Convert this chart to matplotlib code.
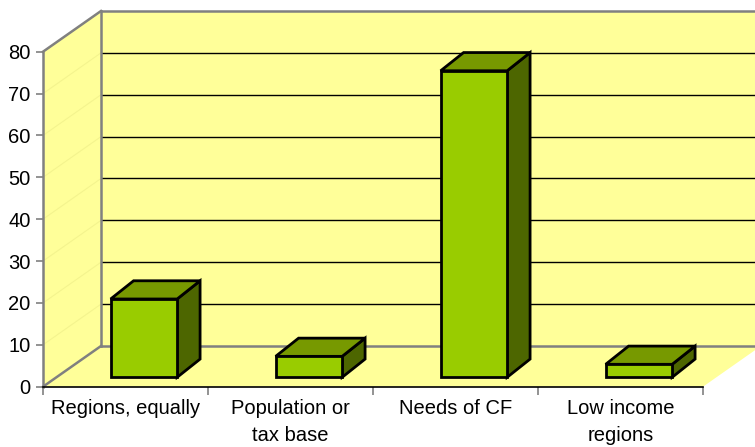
import matplotlib
matplotlib.use("Agg")
import matplotlib.pyplot as plt
from matplotlib.patches import Polygon

plt.rcParams['font.family'] = ['Liberation Sans', 'DejaVu Sans']

categories = ["Regions, equally", "Population or\ntax base", "Needs of CF", "Low income\nregions"]
values = [18.7, 5.0, 73.2, 3.1]
yticks = [0, 10, 20, 30, 40, 50, 60, 70, 80]

YMAX = 80
# oblique depth of the plot box, in data units (categories, value)
DX, DY = 0.3515, 9.72
# bar placement inside the depth of the box
BAR_L, BAR_R = 0.41, 0.813
BAR_BASE = 2.245
BAR_DX, BAR_DY = 0.139, 4.35

WALL = '#FFFF99'
EDGE = '#808080'
FRONT, TOP, SIDE = '#99CC00', '#779900', '#4D6600'

fig = plt.figure(figsize=(7.55, 4.47), dpi=100)
ax = fig.add_axes([43 / 755, 60.3 / 447, 660 / 755, 335 / 447])
ax.set_xlim(0, len(categories))
ax.set_ylim(0, YMAX)
ax.patch.set_visible(False)

n = len(categories)


def poly(pts, fc, ec='none', lw=0, z=1):
    p = Polygon(pts, closed=True, facecolor=fc, edgecolor=ec, linewidth=lw,
                zorder=z, clip_on=False, joinstyle='miter')
    ax.add_patch(p)


# back wall, side wall and floor
poly([(DX, DY), (n + DX, DY), (n + DX, YMAX + DY), (DX, YMAX + DY)], WALL, z=0.5)
poly([(0, 0), (0, YMAX), (DX, YMAX + DY), (DX, DY)], WALL, z=0.5)
poly([(0, 0), (n, 0), (n + DX, DY), (DX, DY)], WALL, z=0.6)

for v in yticks[1:-1]:
    ax.plot([DX, n + DX], [v + DY, v + DY], color='black', lw=1.0, zorder=0.7,
            clip_on=False, solid_capstyle='butt')
for v in yticks[1:]:
    ax.plot([0, DX], [v, v + DY], color='#F4F48E', lw=0.8, zorder=0.7, clip_on=False)

# wall edges
ax.plot([DX, n + DX], [DY, DY], color=EDGE, lw=1.8, zorder=0.8, clip_on=False)
ax.plot([DX, n + DX], [YMAX + DY, YMAX + DY], color=EDGE, lw=1.8, zorder=0.8, clip_on=False)
ax.plot([DX, DX], [DY, YMAX + DY], color=EDGE, lw=1.8, zorder=0.8, clip_on=False)
ax.plot([0, DX], [YMAX, YMAX + DY], color=EDGE, lw=1.8, zorder=0.8, clip_on=False)
ax.plot([0, DX], [0, DY], color=EDGE, lw=1.8, zorder=0.8, clip_on=False)

# 3-D bars
for i, v in enumerate(values):
    xl, xr = i + BAR_L, i + BAR_R
    y0, y1 = BAR_BASE, BAR_BASE + v
    poly([(xr, y0), (xr, y1), (xr + BAR_DX, y1 + BAR_DY), (xr + BAR_DX, y0 + BAR_DY)],
         SIDE, 'black', 2.0, z=2)
    poly([(xl, y1), (xr, y1), (xr + BAR_DX, y1 + BAR_DY), (xl + BAR_DX, y1 + BAR_DY)],
         TOP, 'black', 2.0, z=2)
    poly([(xl, y0), (xr, y0), (xr, y1), (xl, y1)], FRONT, 'black', 2.0, z=3)

# axes
for s in ['top', 'right']:
    ax.spines[s].set_visible(False)
ax.spines['left'].set_color(EDGE)
ax.spines['left'].set_linewidth(1.8)
ax.spines['left'].set_zorder(0.9)
ax.spines['bottom'].set_color('black')
ax.spines['bottom'].set_linewidth(1.2)

ax.set_yticks(yticks)
ax.set_yticklabels([str(t) for t in yticks])
ax.tick_params(axis='y', length=5, width=1.2, color=EDGE, pad=4, labelsize=14.5)

ax.set_xticks(range(n + 1))
ax.set_xticklabels([])
ax.set_xticks([i + 0.5 for i in range(n)], minor=True)
ax.set_xticklabels(categories, minor=True, fontsize=14.5, linespacing=1.5)
ax.tick_params(axis='x', which='minor', length=0, pad=9)
ax.tick_params(axis='x', which='major', length=6, width=1.2, color=EDGE)

fig.savefig('out.png', dpi=100, facecolor='white')
